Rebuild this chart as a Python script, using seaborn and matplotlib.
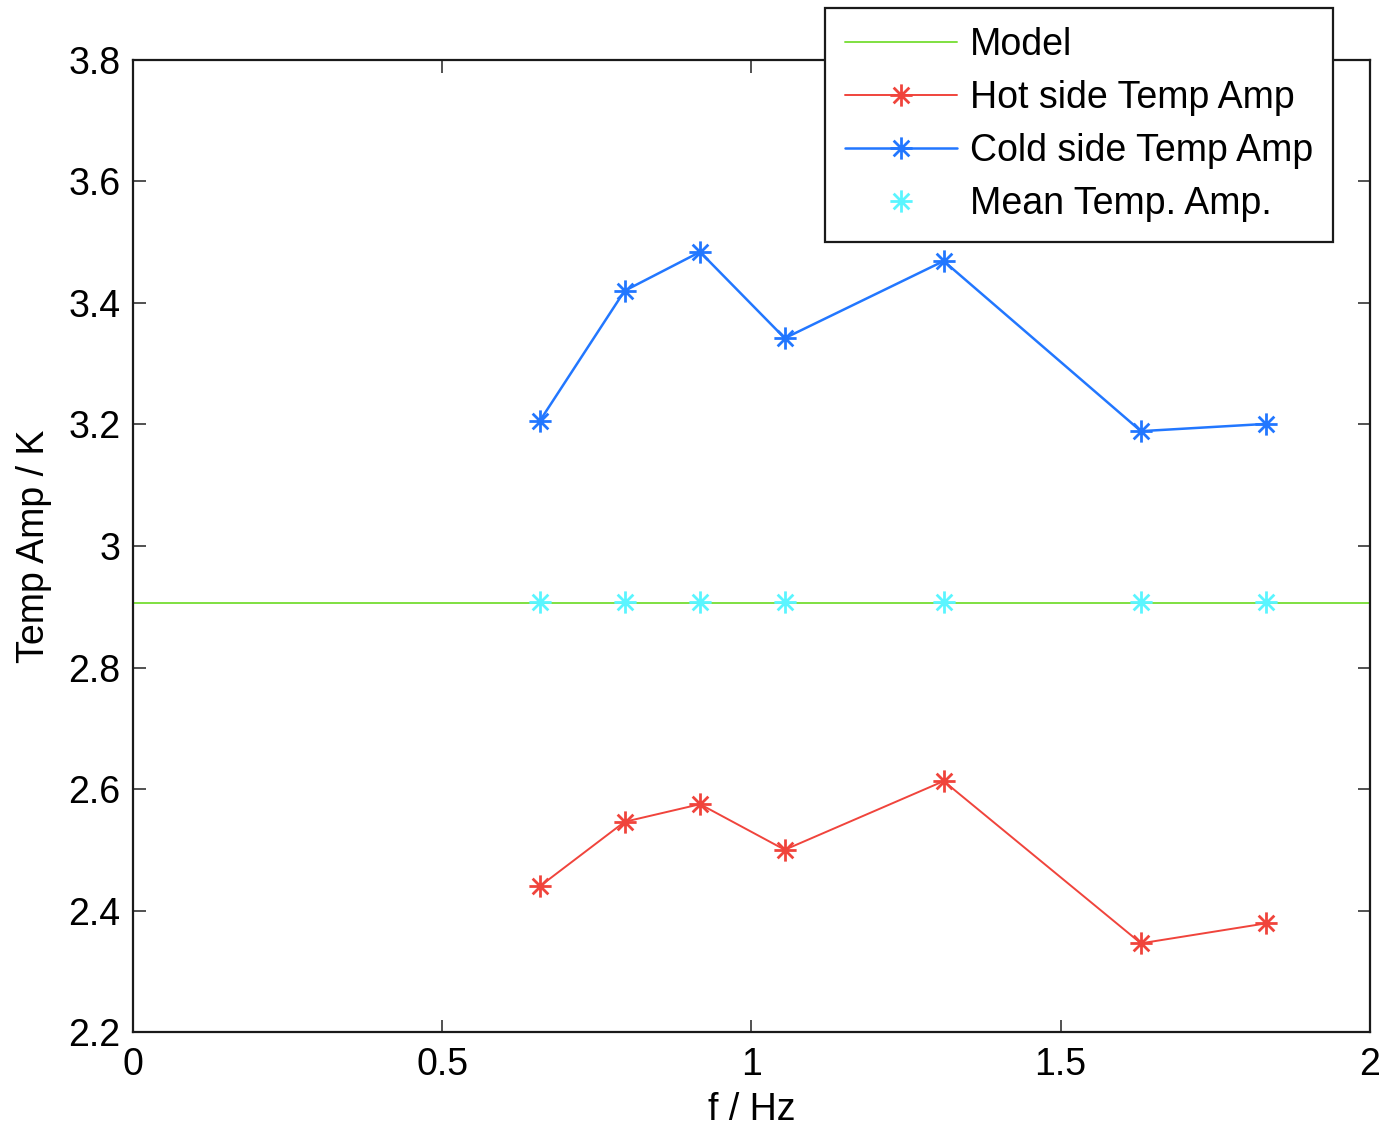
import numpy as np
import seaborn as sns
import matplotlib
matplotlib.use('Agg')
import matplotlib.pyplot as plt
from matplotlib.path import Path

#------------------------------------------------------------------------------#
# Temperature amplitude vs frequency
#------------------------------------------------------------------------------#

freq      = [0.658, 0.795, 0.917, 1.054, 1.311, 1.630, 1.833]
hot_amp   = [2.440, 2.546, 2.575, 2.500, 2.613, 2.346, 2.379]
cold_amp  = [3.206, 3.420, 3.484, 3.342, 3.469, 3.189, 3.201]
mean_amp  = [2.908, 2.908, 2.908, 2.908, 2.908, 2.908, 2.908]
model_x   = [0.0, 2.0]
model_y   = [2.906, 2.906]

xticks = [0, 0.5, 1, 1.5, 2]
xtick_labels = ['0', '0.5', '1', '1.5', '2']
yticks = [2.2, 2.4, 2.6, 2.8, 3.0, 3.2, 3.4, 3.6, 3.8]
ytick_labels = ['2.2', '2.4', '2.6', '2.8', '3', '3.2', '3.4', '3.6', '3.8']

#------------------------------------------------------------------------------#
def asterisk():
    """ MATLAB style 8-spoke asterisk marker """
    d = np.sqrt(0.5)
    verts = [(-1, 0), (1, 0), (0, -1), (0, 1),
             (-d, -d), (d, d), (-d, d), (d, -d)]
    codes = [Path.MOVETO, Path.LINETO] * 4
    return Path(verts, codes)

#------------------------------------------------------------------------------#
def main():

    sns.set_style('ticks')
    plt.rcParams['font.family'] = ['Liberation Sans', 'DejaVu Sans']
    plt.rcParams['xtick.direction'] = 'in'
    plt.rcParams['ytick.direction'] = 'in'
    plt.rcParams['text.color'] = 'black'
    plt.rcParams['axes.labelcolor'] = 'black'
    plt.rcParams['xtick.labelcolor'] = 'black'
    plt.rcParams['ytick.labelcolor'] = 'black'

    fig = plt.figure(figsize=(13.85, 11.31), dpi=100)
    ax = fig.add_axes([0.096, 0.0875, 0.893, 0.8595])

    star = asterisk()
    c_model = '#7fe040'
    c_hot   = '#f0443c'
    c_cold  = '#2277ff'
    c_mean  = '#5af5ff'
    ms, mew = 16, 2.0

    sns.lineplot(x=model_x, y=model_y, color=c_model, lw=1.4, ax=ax,
                 label='Model')
    sns.lineplot(x=freq, y=hot_amp, color=c_hot, lw=1.4, marker=star,
                 markersize=ms, markeredgewidth=mew, markeredgecolor=c_hot,
                 ax=ax, label='Hot side Temp Amp')
    sns.lineplot(x=freq, y=cold_amp, color=c_cold, lw=1.8, marker=star,
                 markersize=ms, markeredgewidth=mew, markeredgecolor=c_cold,
                 ax=ax, label='Cold side Temp Amp')
    sns.lineplot(x=freq, y=mean_amp, color=c_mean, linestyle='none',
                 marker=star, markersize=ms, markeredgewidth=mew,
                 markeredgecolor=c_mean, ax=ax, label='Mean Temp. Amp.')

    ax.set_xlim(0, 2)
    ax.set_ylim(2.2, 3.8)
    ax.set_xticks(xticks)
    ax.set_xticklabels(xtick_labels)
    ax.set_yticks(yticks)
    ax.set_yticklabels(ytick_labels)
    ax.tick_params(axis='both', which='both', top=True, right=True,
                   length=9, width=1.2, labelsize=27, color='#333333')
    ax.tick_params(axis='x', pad=11)
    ax.tick_params(axis='y', pad=9)
    for sp in ax.spines.values():
        sp.set_linewidth(1.6)
        sp.set_color('#1a1a1a')

    ax.set_xlabel('f / Hz', fontsize=27, labelpad=6)
    ax.set_ylabel('Temp Amp / K', fontsize=27, labelpad=12)

    leg = ax.legend(loc='upper right', bbox_to_anchor=(0.9625, 0.993),
                    bbox_transform=fig.transFigure, fontsize=27,
                    frameon=True, fancybox=False, framealpha=1,
                    edgecolor='#1a1a1a', handlelength=3.0,
                    handletextpad=0.35, labelspacing=0.45, borderpad=0.52,
                    borderaxespad=0)
    leg.get_frame().set_linewidth(1.6)

    fig.savefig('out.png', dpi=100)

if __name__ == '__main__':
    main()
